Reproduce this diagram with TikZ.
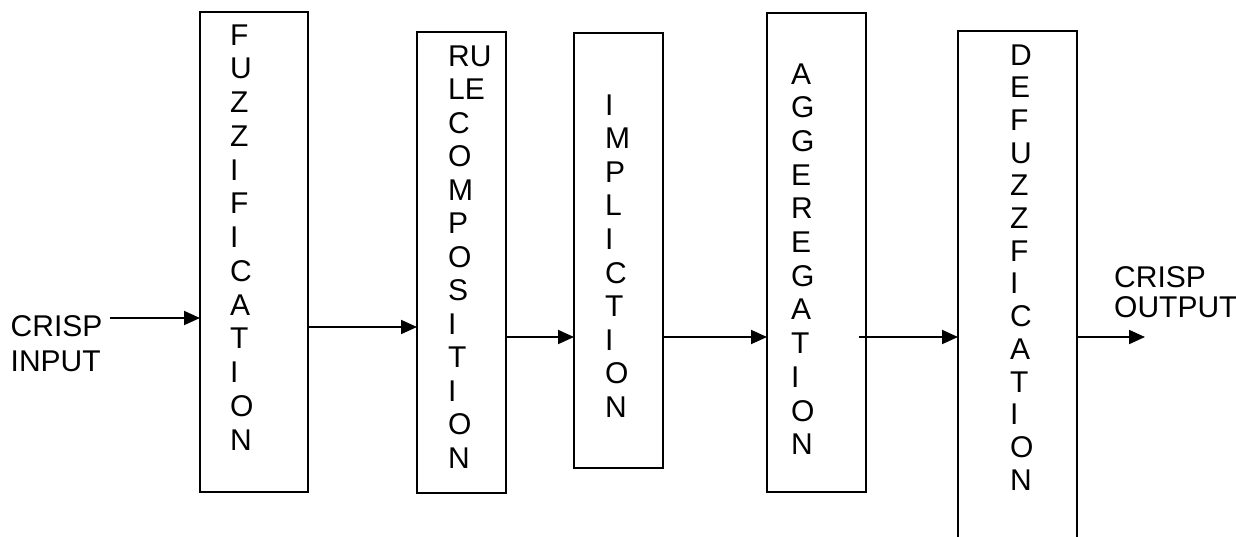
\documentclass[tikz,border=0pt]{standalone}
\usepackage{fontspec}
\setmainfont{Liberation Sans}
\usetikzlibrary{arrows.meta}
\begin{document}
\begin{tikzpicture}[x=1pt,y=-1pt,
  box/.style={draw, line width=1.9pt, inner sep=0pt, outer sep=0pt},
  lt/.style={inner sep=0pt, anchor=base west, font=\fontsize{30}{33}\selectfont},
  arr/.style={line width=1.9pt, -{Triangle[length=16pt,width=14pt]}}]
\useasboundingbox (0,0) rectangle (1236,536);
\clip (0,0) rectangle (1236,536);
\fill[white] (0,0) rectangle (1236,536);
% boxes
\node[box, minimum width=108pt, minimum height=480pt] (b1) at (254,252) {};
\node[box, minimum width=89pt, minimum height=461pt] (b2) at (461.5,262.5) {};
\node[box, minimum width=89pt, minimum height=435pt] (b3) at (618.5,250.5) {};
\node[box, minimum width=99pt, minimum height=479pt] (b4) at (816.5,252.5) {};
\node[box, minimum width=119pt, minimum height=529pt] (b5) at (1017.5,295.5) {};
% letters
\foreach \ch [count=\i from 0] in {F,U,Z,Z,I,F,I,C,A,T,I,O,N}
  \node[lt] (ta\i) at (230,{45+\i*33.75}) {\ch};
\foreach \ch [count=\i from 0] in {RU,LE,C,O,M,P,O,S,I,T,I,O,N}
  \node[lt] (tb\i) at (448,{66+\i*33.5}) {\ch};
\foreach \ch [count=\i from 0] in {I,M,P,L,I,C,T,I,O,N}
  \node[lt] (tc\i) at (605,{115+\i*33.6}) {\ch};
\foreach \ch [count=\i from 0] in {A,G,G,E,R,E,G,A,T,I,O,N}
  \node[lt] (td\i) at (791,{84+\i*33.7}) {\ch};
\foreach \ch [count=\i from 0] in {D,E,F,U,Z,Z,F,I,C,A,T,I,O,N}
  \node[lt] (te\i) at (1010,{65+\i*32.7}) {\ch};
% outer labels
\node[lt] (in1) at (10.5,336) {CRISP};
\node[lt] (in2) at (10.5,371) {INPUT};
\node[lt] (out1) at (1114,287) {CRISP};
\node[lt] (out2) at (1114,317) {OUTPUT};
% connector coordinates
\coordinate (s0) at (110,318);
\coordinate (s4) at (859,337);
\coordinate (e5) at (1145,337);
% connectors
\draw[arr] (s0) -- (b1.west |- s0);
\draw[arr] (b1.east |- 0,327) -- (b2.west |- 0,327);
\draw[arr] (b2.east |- 0,337) -- (b3.west |- 0,337);
\draw[arr] (b3.east |- 0,337) -- (b4.west |- 0,337);
\draw[arr] (s4) -- (b5.west |- s4);
\draw[arr] (b5.east |- e5) -- (e5);
\end{tikzpicture}
\end{document}
